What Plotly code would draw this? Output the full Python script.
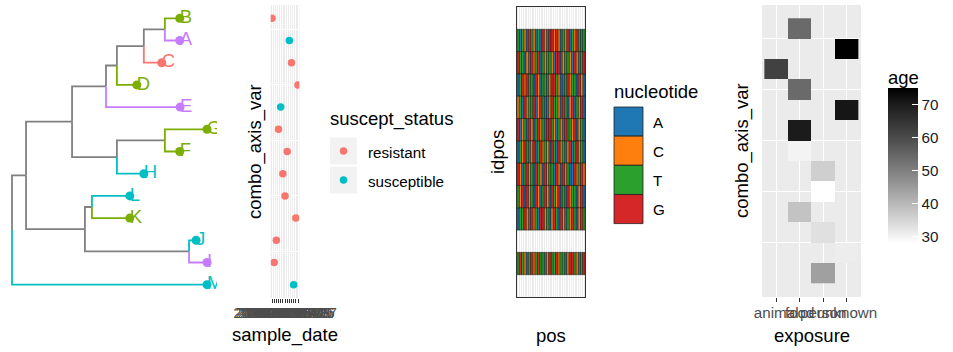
import plotly.graph_objects as go

W, H = 953, 352
FONT = "Liberation Sans, Arial, sans-serif"

# ---------------- data ----------------
# tips listed top to bottom as they appear in the tree
tip_labels = ["B", "A", "C", "D", "E", "G", "F", "H", "L", "K", "J", "I", "M"]
exposure = ["food", "unknown", "animal", "food", "unknown", "food", "food",
            "person", "person", "food", "person", "unknown", "person"]
age = [54, 75, 62, 54, 71, 70, 30, 36, 28, 38, 33, 31, 44]
suscept_status = ["resistant", "susceptible", "resistant", "resistant", "susceptible",
                  "resistant", "resistant", "resistant", "resistant", "resistant",
                  "resistant", "resistant", "susceptible"]
sample_date = ["2017-01-05", "2017-05-08", "2017-05-23", "2017-07-17", "2017-03-01",
               "2017-02-14", "2017-04-20", "2017-03-16", "2017-04-04", "2017-06-26",
               "2017-02-02", "2017-01-19", "2017-06-09"]

exposure_levels = ["animal", "food", "person", "unknown"]
status_levels = ["resistant", "susceptible"]
nucleotide_levels = ["A", "C", "T", "G"]
age_ticks = [30, 40, 50, 60, 70]

# tree edges: (parent, child, branch length)
tree_edges = [
    ("root", "n1", 0.36), ("root", "M", 5.00),
    ("n1", "n2", 1.18), ("n1", "n3", 1.51),
    ("n2", "n4", 0.87), ("n2", "n5", 1.15),
    ("n4", "n6", 0.28), ("n4", "E", 1.90),
    ("n6", "n7", 0.69), ("n6", "D", 0.51),
    ("n7", "n8", 0.54), ("n7", "C", 0.46),
    ("n8", "B", 0.38), ("n8", "A", 0.38),
    ("n5", "n9", 1.23), ("n5", "H", 0.69),
    ("n9", "G", 1.08), ("n9", "F", 0.38),
    ("n3", "n10", 0.18), ("n3", "n11", 2.67),
    ("n10", "L", 0.97), ("n10", "K", 0.97),
    ("n11", "J", 0.18), ("n11", "I", 0.46),
]

# aligned sequences (tips without a sequence are left blank)
sequences = {
    "A": "TATCAGTCATAGCAGGCGCATCGATCGTAT",
    "C": "GTTACAGCTGATCTTCAGGACTTCAGCATG",
    "D": "ATGCGTTAGCATTACGGTCAATGCTTAGCA",
    "E": "CTAGCTTGACGTAACGTTCAGTACGATCGA",
    "G": "GACTAGCATGCTAGGTCATCAGTTCGACTA",
    "F": "ATCGTACGATGCTCAGTAGCTACGATGCTA",
    "H": "GCATGCTAGTCAGCTTAGCAGCTAAGCTGC",
    "L": "TCGAGCTAGCATGCAGTCGATAGCTTACGA",
    "K": "ATTGCAGCTAGGCTACGTAGCATCGTACGT",
    "I": "TGTCATGCTGTTACGTTGCTTACGGTCATG",
}
seq_len = 30

# ---------------- styles ----------------
hue4 = {"animal": "#F8766D", "food": "#7CAE00", "person": "#00BFC4", "unknown": "#C77CFF"}
status_col = {"resistant": "#F8766D", "susceptible": "#00BFC4"}
nuc_col = {"A": "#1F77B4", "C": "#FF7F0E", "T": "#2CA02C", "G": "#D62728"}
branch_grey = "#808080"
panel_bg = "#EBEBEB"
age_scale = [[0, "#FFFFFF"], [0.125, "#DBDBDB"], [0.25, "#B9B9B9"], [0.375, "#979797"],
             [0.5, "#777777"], [0.625, "#585858"], [0.75, "#3B3B3B"], [0.875, "#202020"],
             [1, "#000000"]]

TITLE_SIZE = 18.5
TEXT_SIZE = 15.2

# colour bar geometry (pixels)
CB_LEFT, CB_TOP, CB_LEN, CB_THICK = 888, 88, 155, 30


def dx(a, b):
    return [a / W, b / W]


def dy(top, bottom):
    return [1 - bottom / H, 1 - top / H]


def px(x):
    return x / W


def py(y):
    return 1 - y / H


# ---------------- tree layout ----------------
children, blen = {}, {}
for p, c, l in tree_edges:
    children.setdefault(p, []).append(c)
    blen[c] = l

depth = {"root": 0.0}


def set_depth(n):
    for c in children.get(n, []):
        depth[c] = depth[n] + blen[c]
        set_depth(c)


set_depth("root")

n_tips = len(tip_labels)
ypos = {t: n_tips - i for i, t in enumerate(tip_labels)}


def set_y(n):
    if n in ypos:
        return ypos[n]
    ys = [set_y(c) for c in children[n]]
    ypos[n] = (min(ys) + max(ys)) / 2
    return ypos[n]


set_y("root")
tip_exposure = dict(zip(tip_labels, exposure))


def node_colour(n):
    return hue4[tip_exposure[n]] if n in tip_exposure else branch_grey


fig = go.Figure()

seg = {}
for p, c, _ in tree_edges:
    col = node_colour(c)
    xs, ys = seg.setdefault(col, ([], []))
    xs += [depth[p], depth[p], depth[c], None]
    ys += [ypos[p], ypos[c], ypos[c], None]
for col in [branch_grey] + [hue4[e] for e in exposure_levels]:
    if col in seg:
        fig.add_trace(go.Scatter(x=seg[col][0], y=seg[col][1], mode="lines",
                                 line=dict(color=col, width=1.8), xaxis="x", yaxis="y",
                                 hoverinfo="skip"))

tip_cols = [hue4[e] for e in exposure]
fig.add_trace(go.Scatter(x=[depth[t] for t in tip_labels], y=[ypos[t] for t in tip_labels],
                         mode="markers", marker=dict(color=tip_cols, size=9),
                         xaxis="x", yaxis="y"))
fig.add_trace(go.Scatter(x=[depth[t] for t in tip_labels], y=[ypos[t] for t in tip_labels],
                         mode="text", text=tip_labels, textposition="middle right",
                         textfont=dict(size=18.5, color=tip_cols, family=FONT),
                         xaxis="x", yaxis="y"))

# ---------------- sample date panel ----------------
date_levels = sorted(set(sample_date))
for s in status_levels:
    idx = [i for i, v in enumerate(suscept_status) if v == s]
    fig.add_trace(go.Scatter(x=[sample_date[i] for i in idx],
                             y=[ypos[tip_labels[i]] for i in idx],
                             mode="markers", marker=dict(color=status_col[s], size=7.5),
                             xaxis="x2", yaxis="y2"))

# ---------------- alignment panel ----------------
for nuc in nucleotide_levels:
    bx, bbase = [], []
    for t in tip_labels:
        s = sequences.get(t)
        if not s:
            continue
        for j, ch in enumerate(s):
            if ch == nuc:
                bx.append(j + 1)
                bbase.append(ypos[t] - 0.5)
    fig.add_trace(go.Bar(x=bx, y=[1] * len(bx), base=bbase, width=1,
                         marker=dict(color=nuc_col[nuc], line=dict(color="black", width=0.45)),
                         xaxis="x3", yaxis="y3", hoverinfo="skip"))

# ---------------- exposure / age heatmap ----------------
fig.add_trace(go.Heatmap(
    x=exposure, y=[ypos[t] for t in tip_labels], z=age,
    colorscale=age_scale, xaxis="x4", yaxis="y4",
    colorbar=dict(x=CB_LEFT / W, xanchor="left", xpad=0, ypad=0,
                  y=py(CB_TOP + CB_LEN / 2), yanchor="middle", len=CB_LEN, lenmode="pixels",
                  thickness=CB_THICK, thicknessmode="pixels", outlinewidth=0,
                  tickvals=age_ticks, ticks="inside", ticklen=6,
                  tickcolor="white", tickwidth=1,
                  tickfont=dict(size=TEXT_SIZE, color="#1A1A1A", family=FONT)),
))

# ---------------- legends ----------------
for i, s in enumerate(status_levels):
    cy = 151 + 29 * i
    fig.add_trace(go.Scatter(x=[343.5], y=[cy], mode="markers",
                             marker=dict(symbol="square", size=27, color="#F2F2F2"),
                             xaxis="x5", yaxis="y5", hoverinfo="skip"))
    fig.add_trace(go.Scatter(x=[343.5], y=[cy], mode="markers",
                             marker=dict(size=7.5, color=status_col[s]),
                             xaxis="x5", yaxis="y5", hoverinfo="skip"))
for i, n in enumerate(nucleotide_levels):
    cy = 121.5 + 29.2 * i
    fig.add_trace(go.Scatter(x=[628.5], y=[cy], mode="markers",
                             marker=dict(symbol="square", size=29, color=nuc_col[n],
                                         line=dict(color="#222222", width=0.8)),
                             xaxis="x6", yaxis="y6", hoverinfo="skip"))

tick_font = dict(size=TEXT_SIZE, color="#4D4D4D", family=FONT)
hidden = dict(showgrid=False, zeroline=False, showticklabels=False, ticks="",
              showline=False, automargin=False)


def xa(n, **kw):
    kw.setdefault("automargin", False)
    kw["anchor"] = "y" + n
    return kw


def ya(n, **kw):
    kw.setdefault("automargin", False)
    kw["anchor"] = "x" + n
    return kw


layout = dict(
    width=W, height=H, autosize=False,
    margin=dict(l=0, r=0, t=0, b=0, autoexpand=False),
    paper_bgcolor="white", plot_bgcolor="white",
    showlegend=False, barmode="overlay",
    font=dict(family=FONT, color="black"),
    xaxis=xa("", domain=dx(0, 217), range=[-12 / 39, 205 / 39], **hidden),
    yaxis=ya("", domain=dy(5, 298), range=[0.4, 13.6], **hidden),
    xaxis2=xa("2", domain=dx(270.7, 299.3), type="category", categoryorder="array",
              categoryarray=date_levels, range=[-0.6, 12.6],
              tickmode="array", tickvals=date_levels, ticktext=date_levels,
              tickangle=0, ticks="outside", ticklen=4, tickcolor="#333333", tickwidth=1,
              ticklabelstandoff=-3,
              tickfont=tick_font, showgrid=True, gridcolor="white", gridwidth=1.07,
              zeroline=False, showline=False),
    yaxis2=ya("2", domain=dy(5, 298), range=[0.4, 13.6], tickmode="array",
              tickvals=[2.5, 5, 7.5, 10, 12.5], showticklabels=False, ticks="",
              showgrid=True, gridcolor="white", gridwidth=1.07, zeroline=False),
    xaxis3=xa("3", domain=dx(517, 585), range=[0.5, seq_len + 0.5], tickmode="array",
              tickvals=list(range(1, seq_len + 1)), showticklabels=False, ticks="",
              showgrid=True, gridcolor="white", gridwidth=0.6, zeroline=False,
              showline=True, mirror=True, linecolor="#333333", linewidth=1.3),
    yaxis3=ya("3", domain=dy(7, 297), range=[0.5, 13.5], showticklabels=False, ticks="",
              showgrid=False, zeroline=False,
              showline=True, mirror=True, linecolor="#333333", linewidth=1.3),
    xaxis4=xa("4", domain=dx(762, 861), type="category", categoryorder="array",
              categoryarray=exposure_levels, range=[-0.6, 3.6],
              tickmode="array", tickvals=exposure_levels, ticktext=exposure_levels,
              tickangle=0, ticks="outside", ticklen=4, tickcolor="#333333", tickwidth=1,
              ticklabelstandoff=-2,
              tickfont=tick_font, showgrid=True, gridcolor="white", gridwidth=1.07,
              zeroline=False, showline=False),
    yaxis4=ya("4", domain=dy(5, 297), range=[-0.15, 14.15], tickmode="array",
              tickvals=[2.5, 5, 7.5, 10, 12.5], showticklabels=False, ticks="",
              showgrid=True, gridcolor="white", gridwidth=1.07, zeroline=False),
    xaxis5=xa("5", domain=dx(325, 460), range=[325, 460], **hidden),
    yaxis5=ya("5", domain=dy(100, 210), range=[210, 100], **hidden),
    xaxis6=xa("6", domain=dx(600, 720), range=[600, 720], **hidden),
    yaxis6=ya("6", domain=dy(100, 240), range=[240, 100], **hidden),
)

# grey panel backgrounds
shapes = []
for ax in ["2", "3", "4"]:
    shapes.append(dict(type="rect", xref=f"x{ax} domain", yref=f"y{ax} domain",
                       x0=0, x1=1, y0=0, y1=1, fillcolor=panel_bg, line=dict(width=0),
                       layer="below"))
# white tick marks on the left edge of the colour bar
zmin, zmax = min(age), max(age)
for v in age_ticks:
    ty = CB_TOP + CB_LEN * (zmax - v) / (zmax - zmin)
    shapes.append(dict(type="line", xref="paper", yref="paper",
                       x0=px(CB_LEFT), x1=px(CB_LEFT + 6), y0=py(ty), y1=py(ty),
                       line=dict(color="white", width=1), layer="above"))
layout["shapes"] = shapes

title_font = dict(size=TITLE_SIZE, color="black", family=FONT)
label_font = dict(size=TEXT_SIZE, color="black", family=FONT)
ann = []


def add_text(text, x, y, font, xanchor="center", angle=0):
    ann.append(dict(text=text, x=px(x), y=py(y), xref="paper", yref="paper",
                    showarrow=False, xanchor=xanchor, yanchor="middle",
                    textangle=angle, font=font))


add_text("combo_axis_var", 255, 152, title_font, angle=-90)
add_text("sample_date", 285, 335, title_font)
add_text("idpos", 497, 152, title_font, angle=-90)
add_text("pos", 551, 335, title_font)
add_text("combo_axis_var", 742, 151, title_font, angle=-90)
add_text("exposure", 811.5, 335, title_font)

add_text("suscept_status", 328, 119, title_font, xanchor="left")
for i, s in enumerate(status_levels):
    add_text(s, 366, 152 + 29 * i, label_font, xanchor="left")
add_text("nucleotide", 612, 91, title_font, xanchor="left")
for i, n in enumerate(nucleotide_levels):
    add_text(n, 651, 122 + 29.2 * i, label_font, xanchor="left")
add_text("age", 886, 77, title_font, xanchor="left")
layout["annotations"] = ann

fig.update_layout(**layout)
fig.write_html("out.html")
